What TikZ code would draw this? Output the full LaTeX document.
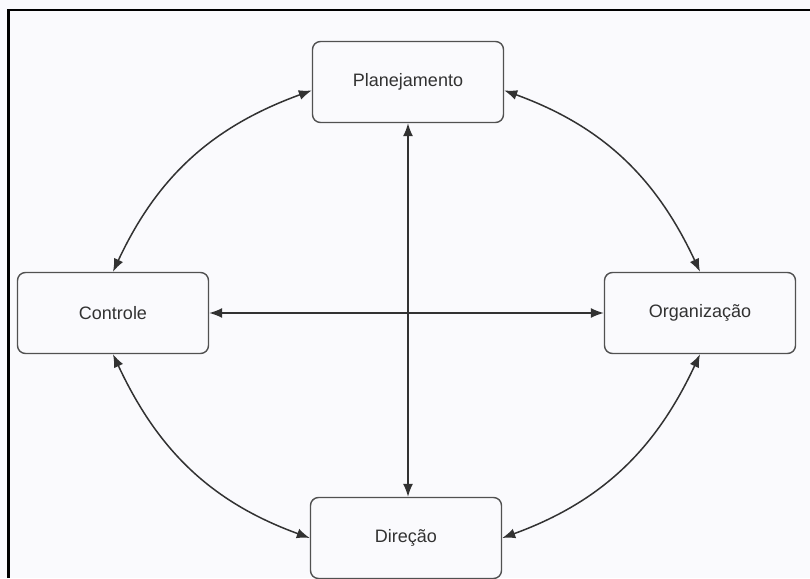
\documentclass[tikz,border=0pt]{standalone}
\usepackage{fontspec}
\setmainfont{Liberation Sans}
\usepackage{tikz}
\usetikzlibrary{arrows.meta}
\definecolor{paper}{RGB}{250,250,253}
\definecolor{ink}{RGB}{50,50,50}
\tikzstyle{fase}=[rectangle, draw=ink!85, rounded corners=8pt,% white box with a grey rim
line width=1.4pt, minimum width=191pt, minimum height=81pt, text=ink,
font=\fontsize{18}{20}\selectfont]
\tikzstyle{dlink}=[{Latex[length=13pt,width=10pt]}-{Latex[length=13pt,width=10pt]}, line width=1.5pt, draw=ink]

\begin{document}
\begin{tikzpicture}[x=1pt,y=-1pt]
\fill[paper] (0,0) rectangle (810,578);
\useasboundingbox (0,0) rectangle (810,578);
\draw[line width=2.8pt] (8.5,578) -- (8.5,10) -- (810,10);

\node[fase] (plan) at (408,82) {Planejamento};
\node[fase] (ctrl) at (113,313) {Controle};
\node[fase] (org) at (700,313) {Organização};
\node[fase] (dir) at (406,538) {Direção};

\draw[dlink] (plan.south) -- (plan.south |- dir.north);
\draw[dlink] (ctrl.east) -- (org.west);
\draw[dlink] (ctrl.north) to[out=65, in=200] (plan.185);
\draw[dlink] (plan.355) to[out=-20, in=115] (org.north);
\draw[dlink] (ctrl.south) to[out=-65, in=160] (dir.west);
\draw[dlink] (dir.east) to[out=20, in=-115] (org.south);
\end{tikzpicture}
\end{document}
